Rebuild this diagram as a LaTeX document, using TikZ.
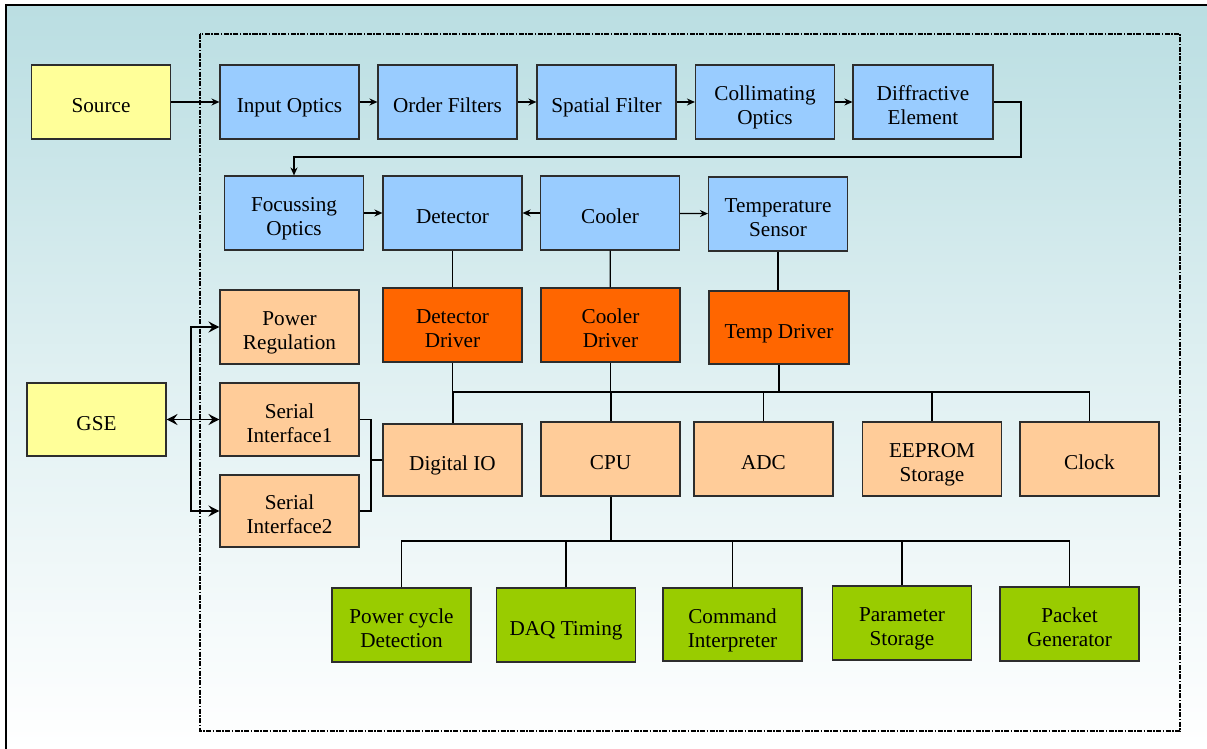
\documentclass[tikz,border=0pt]{standalone}
\usepackage{fontspec}
\setmainfont{Liberation Serif}
\newfontfamily\tnr{Liberation Serif}
\usetikzlibrary{arrows.meta}
\definecolor{bgtop}{RGB}{186,222,226}
\definecolor{cyel}{RGB}{255,255,153}
\definecolor{cblue}{RGB}{153,204,255}
\definecolor{cpeach}{RGB}{255,204,153}
\definecolor{corange}{RGB}{255,102,0}
\definecolor{cgreen}{RGB}{153,204,0}
\definecolor{bord}{RGB}{45,45,45}
\newcommand\tx[1]{\raisebox{-11pt}[0pt][0pt]{\begin{tabular}{@{}c@{}}#1\end{tabular}}}
\tikzset{
  blk/.style={draw=bord, line width=1.1pt, minimum width=139pt, minimum height=74pt, inner sep=0pt,
    font=\tnr\fontsize{21.2}{24}\selectfont},
  yel/.style={blk, fill=cyel},
  blu/.style={blk, fill=cblue},
  pea/.style={blk, fill=cpeach},
  ora/.style={blk, fill=corange},
  grn/.style={blk, fill=cgreen},
  conn/.style={line width=1.2pt, black},
  thk/.style={line width=2pt, black},
  arr/.style={conn, -{Stealth[length=8pt,width=7pt]}},
  bigarr/.style={line width=1.6pt, -{Stealth[length=11pt,width=11pt,inset=4pt]}},
  frame/.style={line width=1.6pt, dash pattern=on 5pt off 1.5pt on 1.5pt off 1.5pt}
}
\begin{document}
\begin{tikzpicture}[x=1pt,y=-1pt]
\useasboundingbox (0,0) rectangle (1207,749);
\fill[top color=bgtop, bottom color=white, middle color=bgtop!45!white] (6,5) rectangle (1207,749);
\draw[line width=1.3pt, black] (6,749) -- (6,5) -- (1207,5);
\draw[frame] (200,34) rectangle (1180,731);

% row 1
\node[yel] (src) at (101,102) {\tx{Source}};
\node[blu] (inp) at (289.5,102) {\tx{Input Optics}};
\node[blu] (ord) at (447.5,102) {\tx{Order Filters}};
\node[blu] (spa) at (606.5,102) {\tx{Spatial Filter}};
\node[blu] (col) at (765,102) {\tx{Collimating\\Optics}};
\node[blu, minimum width=140pt] (dif) at (923,102) {\tx{Diffractive\\Element}};
% row 2
\node[blu] (foc) at (294,213) {\tx{Focussing\\Optics}};
\node[blu] (det) at (452.5,213) {\tx{Detector}};
\node[blu] (coo) at (610,213) {\tx{Cooler}};
\node[blu] (tsn) at (778,214) {\tx{Temperature\\Sensor}};
% row 3
\node[pea] (pwr) at (289.5,327) {\tx{Power\\Regulation}};
\node[ora] (ddr) at (452.5,325) {\tx{Detector\\Driver}};
\node[ora] (cdr) at (610.5,325) {\tx{Cooler\\Driver}};
\node[ora, minimum width=140pt, minimum height=73pt] (tdr) at (779,327.5) {\tx{Temp Driver}};
% left
\node[yel, minimum height=73pt] (gse) at (96.5,419.5) {\tx{GSE}};
\node[pea, minimum height=73pt] (si1) at (289.5,419.5) {\tx{Serial\\Interface1}};
\node[pea, minimum height=72pt] (si2) at (289.5,511) {\tx{Serial\\Interface2}};
% row 4
\node[pea, minimum height=72pt] (dio) at (452.5,460) {\tx{Digital IO}};
\node[pea] (cpu) at (610.5,459) {\tx{CPU}};
\node[pea] (adc) at (763.5,459) {\tx{ADC}};
\node[pea] (eep) at (932,459) {\tx{EEPROM\\Storage}};
\node[pea] (clk) at (1089.5,459) {\tx{Clock}};
% row 5
\node[grn] (pcd) at (401.5,625) {\tx{Power cycle\\Detection}};
\node[grn] (daq) at (566,625) {\tx{DAQ Timing}};
\node[grn, minimum height=73pt] (cmd) at (732.5,624.5) {\tx{Command\\Interpreter}};
\node[grn] (par) at (902,623) {\tx{Parameter\\Storage}};
\node[grn] (pkt) at (1069.5,624) {\tx{Packet\\Generator}};

% optical chain
\draw[arr] (src) -- (inp);
\draw[arr] (inp) -- (ord);
\draw[arr] (ord) -- (spa);
\draw[arr] (spa) -- (col);
\draw[arr] (col) -- (dif);
\coordinate (lp) at (1021,157);
\draw[arr] (dif.east) -| (lp) -| (foc.north);
\draw[arr] (foc) -- (det);
\draw[arr] (coo) -- (det);
\draw[arr] (coo) -- (tsn);

% sensors to drivers
\draw[conn] (det) -- (ddr);
\draw[conn] (coo) -- (cdr);
\draw[conn] (tsn.south) -- (tsn.south |- tdr.north);

% GSE
\draw[bigarr, {Stealth[length=11pt,width=11pt,inset=4pt]}-{Stealth[length=11pt,width=11pt,inset=4pt]}] (gse.east) -- (si1.west);
\coordinate (vj) at (191,419.5);
\draw[bigarr] (vj) |- (pwr.west);
\draw[bigarr] (vj) |- (si2.west);

% serial to digital IO
\coordinate (sj) at (371,460);
\draw[conn] (si1.east) -| (sj) |- (si2.east);
\draw[conn] (sj) -- (dio.west);

% main bus
\coordinate (b1) at (452.5,392);
\coordinate (b2) at (1089.5,392);
\draw[conn] (ddr.south) -- (b1);
\draw[thk] (b1) -- (dio.north);
\draw[conn] (cdr.south) -- (cdr.south |- b1);
\draw[thk] (cdr.south |- b1) -- (cpu.north);
\draw[thk] (b1) -- (tdr.south |- b1);
\draw[conn] (tdr.south) -- (tdr.south |- b1);
\draw[conn] (tdr.south |- b1) -- (b2) -- (clk.north);
\draw[conn] (adc.north) -- (adc.north |- b1);
\draw[conn] (eep.north) -- (eep.north |- b1);

% CPU bus
\coordinate (cb) at (610.5,541);
\draw[thk] (cpu.south) -- (cb);
\draw[conn] (pcd.north) |- (cb);
\draw[thk] (cb) -- (cb -| par.north);
\draw[conn] (cb -| par.north) -| (pkt.north);
\draw[conn] (daq.north) -- (daq.north |- cb);
\draw[conn] (cmd.north) -- (cmd.north |- cb);
\draw[conn] (par.north) -- (par.north |- cb);
\end{tikzpicture}
\end{document}
